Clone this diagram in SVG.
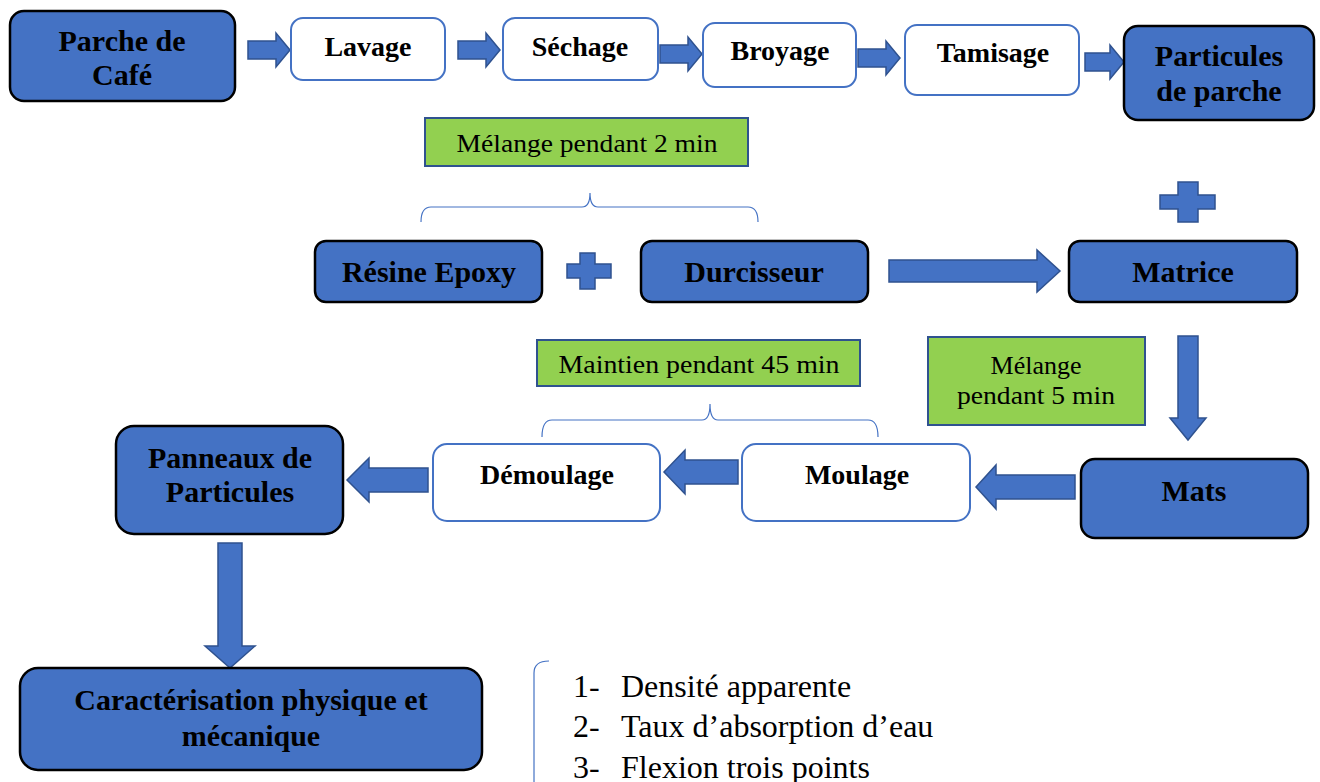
<svg xmlns="http://www.w3.org/2000/svg" width="1320" height="782" viewBox="0 0 1320 782">
<style>
.blue{fill:#4472C4;stroke:#000;stroke-width:2.5}
.white{fill:#fff;stroke:#4472C4;stroke-width:2}
.green{fill:#92D050;stroke:#2F528F;stroke-width:2}
.arr{fill:#4472C4;stroke:#2F528F;stroke-width:1.5}
.brace{fill:none;stroke:#4472C4;stroke-width:1.2}
.tb{font-family:"Liberation Serif","Times New Roman",serif;font-weight:bold;font-size:30px;fill:#000;text-anchor:middle}
.tw{font-family:"Liberation Serif","Times New Roman",serif;font-weight:bold;font-size:28px;fill:#000;text-anchor:middle}
.tg{font-family:"Liberation Serif","Times New Roman",serif;font-size:26px;fill:#000;text-anchor:middle}
.tl{font-family:"Liberation Serif","Times New Roman",serif;font-size:32px;fill:#000}
</style>
<rect width="1320" height="782" fill="#fff"/>

<g id="connectors">
  <polygon class="arr" points="248,41 276,41 276,33 290,50 276,67 276,59 248,59"/>
  <polygon class="arr" points="458,41 486,41 486,33 500,50 486,67 486,59 458,59"/>
  <polygon class="arr" points="660,45 688,45 688,37 702,54 688,71 688,63 660,63"/>
  <polygon class="arr" points="858,49 886,49 886,41 900,58 886,75 886,67 858,67"/>
  <polygon class="arr" points="1085,53 1110,53 1110,45 1124,62 1110,79 1110,71 1085,71"/>
  <polygon class="arr" points="889,260 1037,260 1037,250 1060,271 1037,292 1037,282 889,282"/>
  <polygon class="arr" points="1178,336 1198,336 1198,418 1206,418 1188,440 1170,418 1178,418"/>
  <polygon class="arr" points="1075,475 996,475 996,465 976,487 996,509 996,499 1075,499"/>
  <polygon class="arr" points="738,460 685,460 685,450 664,472 685,494 685,484 738,484"/>
  <polygon class="arr" points="428,468 369,468 369,458 347,480 369,502 369,492 428,492"/>
  <polygon class="arr" points="218,543 242,543 242,646 255,646 230,668 205,646 218,646"/>
  <polygon class="arr" points="580,253 595,253 595,264 611,264 611,278 595,278 595,289 580,289 580,278 567,278 567,264 580,264"/>
  <polygon class="arr" points="1178,182 1198,182 1198,195 1215,195 1215,209 1198,209 1198,222 1178,222 1178,209 1160,209 1160,195 1178,195"/>
  <path class="brace" d="M421,222 Q421,207 431,207 L582,207 Q590,207 590,193 Q590,207 598,207 L748,207 Q758,207 758,222"/>
  <path class="brace" d="M542,437 Q542,420 552,420 L702,420 Q710,420 710,404 Q710,420 718,420 L868,420 Q878,420 878,437"/>
  <path class="brace" d="M549,661 Q534,661 534,673 L534,782"/>
</g>

<g id="parche"><rect class="blue" x="10" y="11" width="225" height="90" rx="14"/><text class="tb" x="122" y="51">Parche de</text><text class="tb" x="122" y="85">Café</text></g>
<g id="lavage"><rect class="white" x="291" y="18" width="154" height="62" rx="12"/><text class="tw" x="368" y="56">Lavage</text></g>
<g id="sechage"><rect class="white" x="503" y="18" width="155" height="62" rx="12"/><text class="tw" x="580" y="56">Séchage</text></g>
<g id="broyage"><rect class="white" x="703" y="23" width="153" height="64" rx="12"/><text class="tw" x="780" y="60">Broyage</text></g>
<g id="tamisage"><rect class="white" x="905" y="25" width="174" height="70" rx="12"/><text class="tw" x="993" y="62">Tamisage</text></g>
<g id="particules"><rect class="blue" x="1124" y="26" width="190" height="94" rx="14"/><text class="tb" x="1219" y="66">Particules</text><text class="tb" x="1219" y="101">de parche</text></g>

<g id="melange2"><rect class="green" x="425" y="118" width="323" height="48"/><text class="tg" x="587" y="152" textLength="261" lengthAdjust="spacingAndGlyphs">Mélange pendant 2 min</text></g>
<g id="resine"><rect class="blue" x="315" y="241" width="227" height="61" rx="11"/><text class="tb" x="429" y="282">Résine Epoxy</text></g>
<g id="durcisseur"><rect class="blue" x="641" y="241" width="227" height="61" rx="11"/><text class="tb" x="754" y="282">Durcisseur</text></g>
<g id="matrice"><rect class="blue" x="1069" y="241" width="228" height="61" rx="11"/><text class="tb" x="1183" y="282">Matrice</text></g>

<g id="maintien"><rect class="green" x="537" y="340" width="323" height="46"/><text class="tg" x="699" y="373" textLength="281" lengthAdjust="spacingAndGlyphs">Maintien pendant 45 min</text></g>
<g id="melange5"><rect class="green" x="928" y="337" width="217" height="88"/><text class="tg" x="1036" y="374">Mélange</text><text class="tg" x="1036" y="404" textLength="158" lengthAdjust="spacingAndGlyphs">pendant 5 min</text></g>

<g id="panneaux"><rect class="blue" x="116" y="426" width="227" height="108" rx="18"/><text class="tb" x="230" y="468">Panneaux de</text><text class="tb" x="230" y="502">Particules</text></g>
<g id="demoulage"><rect class="white" x="433" y="444" width="227" height="77" rx="14"/><text class="tw" x="547" y="484">Démoulage</text></g>
<g id="moulage"><rect class="white" x="742" y="444" width="228" height="77" rx="14"/><text class="tw" x="857" y="484">Moulage</text></g>
<g id="mats"><rect class="blue" x="1081" y="459" width="227" height="79" rx="14"/><text class="tb" x="1194" y="501">Mats</text></g>

<g id="caracterisation"><rect class="blue" x="20" y="668" width="462" height="102" rx="18"/><text class="tb" x="251" y="710">Caractérisation physique et</text><text class="tb" x="251" y="746">mécanique</text></g>

<g id="liste">
  <text class="tl" x="573" y="697">1-</text><text class="tl" x="621" y="697">Densité apparente</text>
  <text class="tl" x="573" y="737">2-</text><text class="tl" x="621" y="737">Taux d’absorption d’eau</text>
  <text class="tl" x="573" y="778">3-</text><text class="tl" x="621" y="778">Flexion trois points</text>
</g>
</svg>
